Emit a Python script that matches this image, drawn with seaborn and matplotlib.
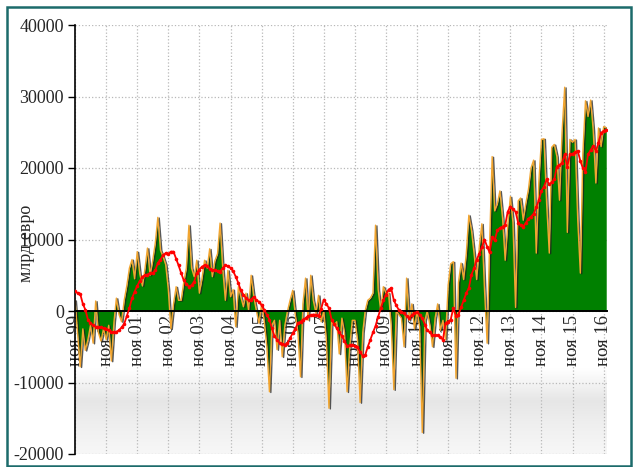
import numpy as np
import pandas as pd
import seaborn as sns
import matplotlib.pyplot as plt
import matplotlib.patheffects as pe
from matplotlib.patches import Rectangle
from matplotlib.colors import LinearSegmentedColormap

# monthly balance, Nov 1999 .. Dec 2016 (one row per year, Nov..Oct)
balance = [
    1500, -3000, -7800, -2500, -5500, -4000, -2000, -4500, 1400, -3000, -4200, -2500,
    -4000, -2000, -7000, -1500, 1800, -500, -1500, 1500, 3500, 6000, 7200, 4500,
    8300, 5200, 3500, 6000, 8800, 5000, 7000, 9500, 13100, 8500, 7600, 6500,
    3000, -2500, 1000, 3400, 1500, 1500, 4000, 6000, 12000, 6000, 4800, 7100,
    2500, 4500, 7100, 6000, 8700, 4800, 7000, 8000, 12300, 6000, 1500, 5700,
    2000, 3000, -2200, 3400, 2000, 600, 2500, 100, 5000, 2000, 0, -1700,
    1000, -1300, -5000, -11300, -2000, -1300, -5400, -1300, -6400, -2000, 0, 1500,
    2900, -500, -3000, -9200, 1000, 4600, -1300, 5000, 1500, -300, 2200, -1500,
    0, -4000, -13600, -1300, -2000, -1500, -6000, -1000, -3000, -11300, -5000, -1300,
    -1300, -4000, -12800, -3000, 0, 1500, 1800, 2500, 12000, 3000, 0, 3400,
    2500, 2500, -2000, -11000, 0, -500, -1000, -5000, 4600, -1300, 1000, -2500,
    0, -2200, -17000, -1300, 0, -2000, -5000, -1000, 1000, -2700, -1300, -4000,
    3600, 6600, 6900, -9400, 4000, 6700, 4400, 8000, 13400, 11300, 8000, 4400,
    9000, 12200, 3000, -4500, 9000, 21600, 14000, 15000, 16800, 13000, 7100, 12000,
    16000, 12400, 500, 15400, 15800, 12700, 15000, 17000, 20000, 21100, 8100, 18000,
    24000, 24100, 15000, 8100, 22900, 23300, 21600, 15500, 25000, 31300, 11000, 24000,
    23600, 24000, 12800, 5300, 22000, 29400, 27200, 29500, 25300, 17900, 25600, 23000,
    25800, 25600,
]

# 12-month average of the balance
average = [
    2800, 2500, 2400, 1000, 200, -1200, -1700, -2000, -2200, -2200, -2300, -2400,
    -2500, -2700, -2900, -3000, -2900, -2700, -2300, -1800, -700, 400, 1800, 2700,
    3500, 4200, 4800, 5000, 5100, 5300, 5300, 5700, 6700, 7200, 7800, 8100,
    8000, 8300, 8300, 7300, 6400, 5300, 4300, 3800, 3400, 3600, 4100, 5300,
    5800, 6200, 6400, 6300, 5900, 5700, 5700, 5600, 5500, 6000, 6400, 6300,
    6000, 5600, 4800, 3900, 2900, 2300, 1800, 1500, 1600, 2000, 1500, 1300,
    800, 140, -500, -1200, -2400, -3500, -4000, -4500, -4600, -4700, -4500, -3800,
    -3100, -2500, -1700, -1500, -1200, -1000, -700, -600, -500, -500, -700, 300,
    1600, 1000, 400, -1200, -1800, -2400, -3000, -3500, -4200, -4900, -4800, -4700,
    -4900, -5100, -5700, -6300, -6200, -5000, -4000, -3000, -2100, -800, 400, 1500,
    2300, 3000, 3200, 1500, 800, 140, -100, -300, -700, -1000, -600, -300,
    -100, -500, -1000, -1900, -2700, -3000, -3400, -3400, -3400, -3700, -4000, -1700,
    -1500, -1200, 400, -700, -500, 500, 1500, 2500, 3200, 5100, 6000, 7200,
    8000, 8900, 10000, 9000, 8200, 10300, 9900, 11300, 11600, 11800, 12000, 13900,
    14600, 14200, 13900, 12300, 12000, 11800, 12300, 12900, 13200, 13600, 14500, 15500,
    16800, 17400, 18400, 17700, 18000, 18400, 20200, 20400, 20700, 21900, 20200, 21900,
    22000, 22200, 22400, 21000, 20000, 19500, 21900, 22500, 23100, 22400, 23500, 24900,
    25200, 25300,
]

tick_years = list(range(1999, 2017))
tick_labels = [f"ноя {y % 100:02d}" for y in tick_years]
y_ticks = [-20000, -10000, 0, 10000, 20000, 30000, 40000]

df = pd.DataFrame({
    "month": pd.date_range("1999-11-01", periods=len(balance), freq="MS"),
    "balance": balance,
    "average": average,
})

sns.set_style("white")
plt.rcParams["font.family"] = "serif"
plt.rcParams["font.serif"] = ["Liberation Serif", "DejaVu Serif"]

fig = plt.figure(figsize=(6.33, 4.67), dpi=100)
ax = fig.add_axes([75 / 633, 13 / 467, 532 / 633, 429 / 467])

# green area with orange, shadowed edge
ax.fill_between(df["month"], df["balance"], 0, color="#008000", lw=0, zorder=1.2)
sns.lineplot(
    data=df, x="month", y="balance", ax=ax, color="#f2a530", lw=1.0,
    path_effects=[pe.SimpleLineShadow(offset=(1.0, -0.5), shadow_color="#202020", alpha=0.75),
                  pe.Normal()],
    zorder=1.5,
)
sns.lineplot(
    data=df, x="month", y="average", ax=ax, color="#ff0000", lw=1.3,
    marker="o", markersize=2.6, markeredgewidth=0, zorder=3,
)

# soft grey band at the bottom of the plot area
band = LinearSegmentedColormap.from_list(
    "band", [(0, "#f7f7f7"), (0.35, "#efefef"), (0.62, "#e6e6e6"), (0.8, "#f2f2f2"), (1, "#ffffff")]
)
grad = np.linspace(0, 1, 200).reshape(-1, 1)
ax.imshow(grad, cmap=band, extent=(0, 1, 0, 0.2), transform=ax.transAxes,
          origin="lower", aspect="auto", zorder=0.2)

ax.set_xlim(pd.Timestamp("1999-11-01"), pd.Timestamp("2016-12-10"))
ax.set_ylim(-20000, 40000)

ax.set_xticks(pd.to_datetime([f"{y}-11-01" for y in tick_years]))
ax.set_xticklabels(tick_labels)
ax.set_yticks(y_ticks)
ax.set_yticklabels([str(v) for v in y_ticks])
ax.tick_params(axis="x", length=0, pad=3, labelrotation=90, labelsize=13.5)
ax.tick_params(axis="y", left=True, length=5, width=1, color="black", pad=3, labelsize=13)

ax.grid(True, color="#b8b8b8", linestyle=":", linewidth=0.9)
ax.set_axisbelow(True)

ax.spines["bottom"].set_position(("data", 0))
ax.spines["bottom"].set_linewidth(1.4)
ax.spines["left"].set_linewidth(1.2)
for s in ["bottom", "left"]:
    ax.spines[s].set_color("black")
ax.spines["top"].set_visible(False)
ax.spines["right"].set_visible(False)

ax.set_xlabel("")
ax.set_ylabel("млрд евро", fontsize=13)
ax.yaxis.set_label_coords(-0.075, 0.49)

# dark teal frame round the chart
fig.patches.append(Rectangle((6.5 / 633, 1.0 / 467), 624.5 / 633, 459 / 467,
                             transform=fig.transFigure, fill=False,
                             edgecolor="#1c6b6b", lw=1.8))

fig.savefig("out.png", dpi=100)
